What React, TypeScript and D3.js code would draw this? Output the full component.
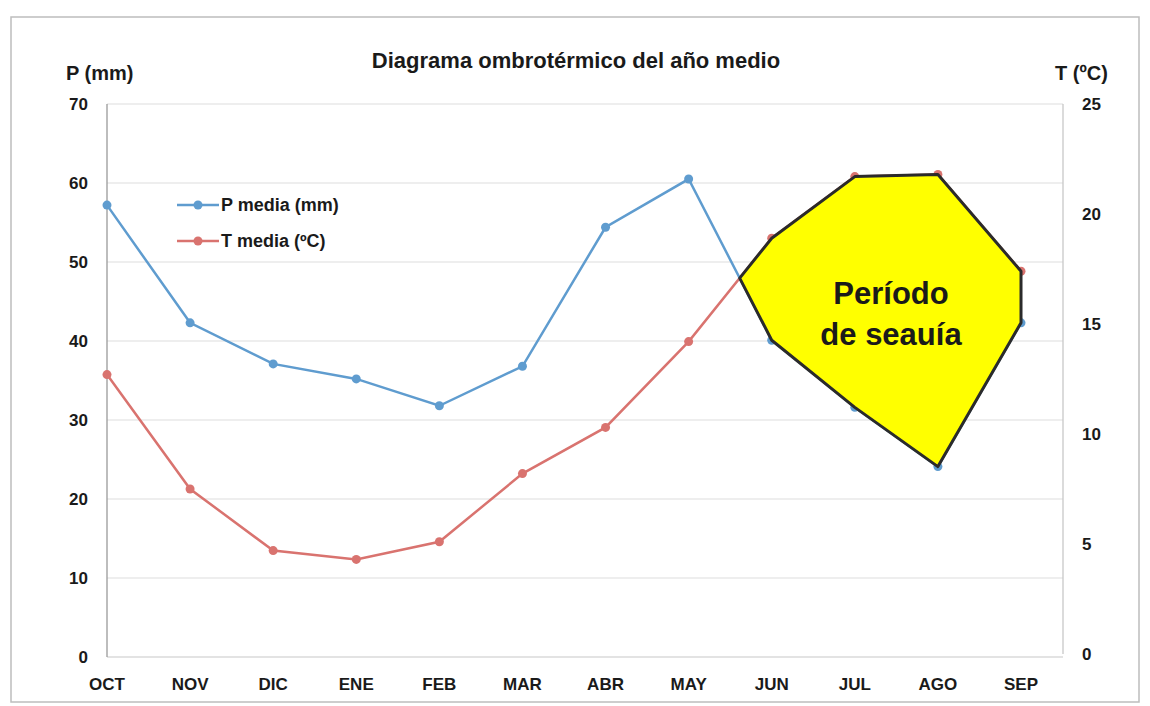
import React, { useEffect, useRef } from "react";
import * as d3 from "d3";

// month labels, hydrological year (Oct -> Sep)
const months = ["OCT", "NOV", "DIC", "ENE", "FEB", "MAR", "ABR", "MAY", "JUN", "JUL", "AGO", "SEP"];
// precipitation, mm (left axis)
const pMedia = [57.2, 42.3, 37.1, 35.2, 31.8, 36.8, 54.4, 60.5, 40.1, 31.6, 24.1, 42.3];
// temperature, ºC (right axis)
const tMedia = [12.7, 7.5, 4.7, 4.3, 5.1, 8.2, 10.3, 14.2, 18.9, 21.7, 21.8, 17.4];
const pTicks = [0, 10, 20, 30, 40, 50, 60, 70];
const tTicks = [0, 5, 10, 15, 20, 25];

const FONT = "'Liberation Sans', Arial, sans-serif";

export default function App() {
    const svgRef = useRef<SVGSVGElement>(null);
    const width = 1150;
    const height = 706;

    useEffect(() => {
        const svg = d3.select(svgRef.current);
        svg.selectAll("*").remove();

        const blue = "#5f9ccf";
        const red = "#d9736f";

        const xScale = d3.scalePoint().domain(months).range([107, 1021]);
        const pScale = d3.scaleLinear().domain([0, 70]).range([657, 104]);
        const tScale = d3.scaleLinear().domain([0, 25]).range([654, 104]);
        const left = 107;
        const right = 1063;

        // outer frame
        svg.append("rect")
            .attr("x", 11).attr("y", 17)
            .attr("width", 1128).attr("height", 685)
            .attr("fill", "#fff")
            .attr("stroke", "#bdbdbd")
            .attr("stroke-width", 1.5);

        // horizontal gridlines from the P axis
        svg.append("g")
            .selectAll("line")
            .data(pTicks)
            .join("line")
            .attr("x1", left).attr("x2", right)
            .attr("y1", d => pScale(d)).attr("y2", d => pScale(d))
            .attr("stroke", d => d === 0 ? "#c8c8c8" : "#dedede")
            .attr("stroke-width", 1.2);

        // axis lines
        svg.append("line")
            .attr("x1", left).attr("x2", left)
            .attr("y1", pScale(70)).attr("y2", pScale(0))
            .attr("stroke", "#9a9a9a").attr("stroke-width", 1.3);
        svg.append("line")
            .attr("x1", right).attr("x2", right)
            .attr("y1", tScale(25)).attr("y2", tScale(0))
            .attr("stroke", "#c8c8c8").attr("stroke-width", 1.3);

        // left tick labels
        svg.append("g")
            .selectAll("text")
            .data(pTicks)
            .join("text")
            .attr("x", 88)
            .attr("y", d => pScale(d) + 6)
            .attr("text-anchor", "end")
            .attr("font-family", FONT).attr("font-weight", "bold").attr("font-size", 17)
            .attr("fill", "#1a1a1a")
            .text(d => d);

        // right tick labels
        svg.append("g")
            .selectAll("text")
            .data(tTicks)
            .join("text")
            .attr("x", 1082)
            .attr("y", d => tScale(d) + 6)
            .attr("font-family", FONT).attr("font-weight", "bold").attr("font-size", 17)
            .attr("fill", "#1a1a1a")
            .text(d => d);

        // x labels
        svg.append("g")
            .selectAll("text")
            .data(months)
            .join("text")
            .attr("x", d => xScale(d)!)
            .attr("y", 690)
            .attr("text-anchor", "middle")
            .attr("font-family", FONT).attr("font-weight", "bold").attr("font-size", 17)
            .attr("fill", "#1a1a1a")
            .text(d => d);

        // title + axis titles
        svg.append("text")
            .attr("x", 576).attr("y", 68)
            .attr("text-anchor", "middle")
            .attr("font-family", FONT).attr("font-weight", "bold").attr("font-size", 22)
            .attr("fill", "#1a1a1a")
            .text("Diagrama ombrotérmico del año medio");
        svg.append("text")
            .attr("x", 66).attr("y", 80)
            .attr("font-family", FONT).attr("font-weight", "bold").attr("font-size", 20)
            .attr("fill", "#1a1a1a")
            .text("P (mm)");
        svg.append("text")
            .attr("x", 1055).attr("y", 80)
            .attr("font-family", FONT).attr("font-weight", "bold").attr("font-size", 20)
            .attr("fill", "#1a1a1a")
            .text("T (ºC)");

        const pPts: [number, number][] = months.map((m, i) => [xScale(m)!, pScale(pMedia[i])]);
        const tPts: [number, number][] = months.map((m, i) => [xScale(m)!, tScale(tMedia[i])]);

        const line = d3.line();

        svg.append("path")
            .attr("d", line(tPts))
            .attr("fill", "none").attr("stroke", red).attr("stroke-width", 2.5);
        svg.selectAll(".tdot").data(tPts).join("circle")
            .attr("class", "tdot")
            .attr("cx", d => d[0]).attr("cy", d => d[1]).attr("r", 4.5)
            .attr("fill", red);

        svg.append("path")
            .attr("d", line(pPts))
            .attr("fill", "none").attr("stroke", blue).attr("stroke-width", 2.5);
        svg.selectAll(".pdot").data(pPts).join("circle")
            .attr("class", "pdot")
            .attr("cx", d => d[0]).attr("cy", d => d[1]).attr("r", 4.5)
            .attr("fill", blue);

        // dry period polygon: where the T curve rises above the P curve (in drawn space)
        let k = -1;
        for (let i = 0; i < months.length - 1; i++) {
            if (tPts[i][1] > pPts[i][1] && tPts[i + 1][1] < pPts[i + 1][1]) k = i;
        }
        if (k >= 0) {
            const d0 = tPts[k][1] - pPts[k][1];
            const d1 = tPts[k + 1][1] - pPts[k + 1][1];
            const f = d0 / (d0 - d1);
            const cross: [number, number] = [
                tPts[k][0] + f * (tPts[k + 1][0] - tPts[k][0]),
                tPts[k][1] + f * (tPts[k + 1][1] - tPts[k][1]),
            ];
            const poly: [number, number][] = [cross, ...tPts.slice(k + 1), ...pPts.slice(k + 1).reverse()];
            svg.append("path")
                .attr("d", line(poly) + "Z")
                .attr("fill", "#ffff00")
                .attr("stroke", "#2b2b2b")
                .attr("stroke-width", 3)
                .attr("stroke-linejoin", "round");
        }

        const label = svg.append("text")
            .attr("text-anchor", "middle")
            .attr("font-family", FONT).attr("font-weight", "bold").attr("font-size", 31)
            .attr("fill", "#1a1a1a");
        label.append("tspan").attr("x", 891).attr("y", 304).text("Período");
        label.append("tspan").attr("x", 891).attr("y", 345).text("de seauía");

        // legend
        const legend = [
            { name: "P media (mm)", color: blue, y: 205 },
            { name: "T media (ºC)", color: red, y: 241 },
        ];
        legend.forEach(l => {
            svg.append("line")
                .attr("x1", 177).attr("x2", 219)
                .attr("y1", l.y).attr("y2", l.y)
                .attr("stroke", l.color).attr("stroke-width", 2.5);
            svg.append("circle")
                .attr("cx", 198).attr("cy", l.y).attr("r", 4.5)
                .attr("fill", l.color);
            svg.append("text")
                .attr("x", 221).attr("y", l.y + 6)
                .attr("font-family", FONT).attr("font-weight", "bold").attr("font-size", 18)
                .attr("fill", "#1a1a1a")
                .text(l.name);
        });
    }, []);

    return (
        <svg
            ref={svgRef}
            width={width}
            height={height}
            style={{ position: "absolute", left: 0, top: 0, background: "#fff" }}
        />
    );
}
